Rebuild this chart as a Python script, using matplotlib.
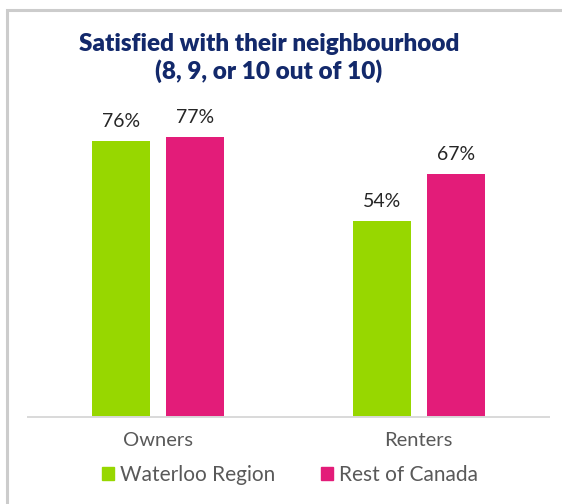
import matplotlib.pyplot as plt
from matplotlib.patches import Rectangle

categories = ["Owners", "Renters"]
series_names = ["Waterloo Region", "Rest of Canada"]
waterloo = [76, 54]
rest_of_canada = [77, 67]
colors = ["#97d700", "#e31c79"]

W, H = 562, 504
fig = plt.figure(figsize=(W / 100, H / 100), dpi=100)

# outer frame (light grey), running off the right and bottom edges
fig.patches.append(Rectangle((7 / W, -0.1), 1.2, 1 - 10 / H + 0.1,
                             transform=fig.transFigure, fill=False,
                             edgecolor="#cccccc", linewidth=2.2))

left, right, bottom, top = 28, 549, 417, 54
ax = fig.add_axes([left / W, 1 - bottom / H, (right - left) / W, (bottom - top) / H])
ax.set_ylim(0, 100)
ax.set_xlim(-0.5, 1.5)

bw = 0.222
off = 0.1418
x = list(range(len(categories)))
for vals, c, d in [(waterloo, colors[0], -off), (rest_of_canada, colors[1], off)]:
    xs = [xi + d for xi in x]
    ax.bar(xs, vals, width=bw, color=c, zorder=2)
    for xi, v in zip(xs, vals):
        ax.annotate(f"{v}%", (xi, v), xytext=(0, 8), textcoords="offset points",
                    ha="center", va="bottom", fontsize=14, color="#262626",
                    family="Lato")

for s in ["top", "right", "left"]:
    ax.spines[s].set_visible(False)
ax.spines["bottom"].set_color("#d9d9d9")
ax.spines["bottom"].set_linewidth(1.4)
ax.set_yticks([])
ax.set_xticks(x)
ax.set_xticklabels(categories, fontsize=14.5, color="#595959", family="Lato")
ax.tick_params(axis="x", length=0, pad=11)

fig.text(269 / W, 1 - 58 / H, "Satisfied with their neighbourhood\n(8, 9, or 10 out of 10)",
         ha="center", va="center", fontsize=17.5, fontweight="heavy",
         color="#13296b", family="Lato", linespacing=1.25)

handles = [Rectangle((0, 0), 1, 1, color=c) for c in colors]
fig.legend(handles, series_names, loc="center", bbox_to_anchor=(290 / W, 1 - 475 / H),
           ncol=2, frameon=False, handlelength=0.55, handleheight=0.55,
           handletextpad=0.3, columnspacing=2.2, labelcolor="#595959",
           prop={"family": "Lato", "size": 15})

fig.savefig("out.png", dpi=100)
